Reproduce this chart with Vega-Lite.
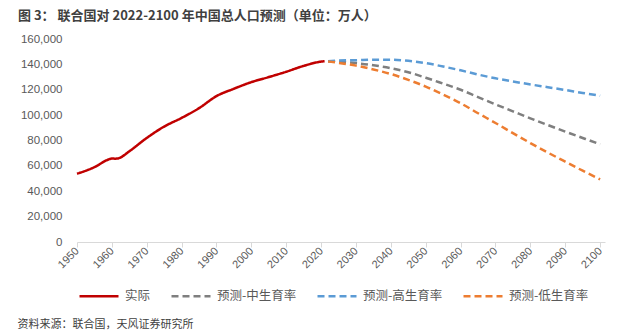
{
  "$schema": "https://vega.github.io/schema/vega-lite/v6.json",
  "width": 528,
  "height": 203,
  "autosize": {"type": "none"},
  "padding": {"left": 77, "top": 39, "right": 34, "bottom": 93},
  "background": "white",
  "config": {"view": {"stroke": null}, "font": "Noto Sans CJK SC"},
  "title": {
    "text": "图 3：  联合国对 2022-2100 年中国总人口预测（单位：万人）",
    "anchor": "start",
    "frame": "group",
    "dx": -59,
    "offset": 10,
    "fontSize": 13,
    "fontWeight": "bold",
    "color": "#404040",
    "font": "Noto Sans CJK SC"
  },
  "data": {
    "values": [
      {"year": 1950, "value": 53800, "series": "实际"},
      {"year": 1955, "value": 59000, "series": "实际"},
      {"year": 1959, "value": 65000, "series": "实际"},
      {"year": 1960, "value": 65800, "series": "实际"},
      {"year": 1961, "value": 65700, "series": "实际"},
      {"year": 1962, "value": 66100, "series": "实际"},
      {"year": 1965, "value": 71500, "series": "实际"},
      {"year": 1970, "value": 82000, "series": "实际"},
      {"year": 1975, "value": 91000, "series": "实际"},
      {"year": 1980, "value": 97800, "series": "实际"},
      {"year": 1985, "value": 105500, "series": "实际"},
      {"year": 1990, "value": 115000, "series": "实际"},
      {"year": 1995, "value": 120800, "series": "实际"},
      {"year": 2000, "value": 126000, "series": "实际"},
      {"year": 2005, "value": 130000, "series": "实际"},
      {"year": 2010, "value": 134200, "series": "实际"},
      {"year": 2015, "value": 138800, "series": "实际"},
      {"year": 2020, "value": 142200, "series": "实际"},
      {"year": 2021, "value": 142500, "series": "实际"},
      {"year": 2022, "value": 142500, "series": "预测-中生育率"},
      {"year": 2025, "value": 142000, "series": "预测-中生育率"},
      {"year": 2030, "value": 141000, "series": "预测-中生育率"},
      {"year": 2035, "value": 139300, "series": "预测-中生育率"},
      {"year": 2040, "value": 137000, "series": "预测-中生育率"},
      {"year": 2045, "value": 133800, "series": "预测-中生育率"},
      {"year": 2050, "value": 129500, "series": "预测-中生育率"},
      {"year": 2055, "value": 124800, "series": "预测-中生育率"},
      {"year": 2060, "value": 120000, "series": "预测-中生育率"},
      {"year": 2065, "value": 114200, "series": "预测-中生育率"},
      {"year": 2070, "value": 108500, "series": "预测-中生育率"},
      {"year": 2075, "value": 103000, "series": "预测-中生育率"},
      {"year": 2080, "value": 97500, "series": "预测-中生育率"},
      {"year": 2085, "value": 92200, "series": "预测-中生育率"},
      {"year": 2090, "value": 87000, "series": "预测-中生育率"},
      {"year": 2095, "value": 82000, "series": "预测-中生育率"},
      {"year": 2100, "value": 77000, "series": "预测-中生育率"},
      {"year": 2022, "value": 142500, "series": "预测-高生育率"},
      {"year": 2025, "value": 143000, "series": "预测-高生育率"},
      {"year": 2030, "value": 143300, "series": "预测-高生育率"},
      {"year": 2035, "value": 143700, "series": "预测-高生育率"},
      {"year": 2040, "value": 143700, "series": "预测-高生育率"},
      {"year": 2045, "value": 142800, "series": "预测-高生育率"},
      {"year": 2050, "value": 141000, "series": "预测-高生育率"},
      {"year": 2055, "value": 138300, "series": "预测-高生育率"},
      {"year": 2060, "value": 135300, "series": "预测-高生育率"},
      {"year": 2065, "value": 132000, "series": "预测-高生育率"},
      {"year": 2070, "value": 129000, "series": "预测-高生育率"},
      {"year": 2075, "value": 126500, "series": "预测-高生育率"},
      {"year": 2080, "value": 124200, "series": "预测-高生育率"},
      {"year": 2085, "value": 122000, "series": "预测-高生育率"},
      {"year": 2090, "value": 119800, "series": "预测-高生育率"},
      {"year": 2095, "value": 117500, "series": "预测-高生育率"},
      {"year": 2100, "value": 115300, "series": "预测-高生育率"},
      {"year": 2022, "value": 142300, "series": "预测-低生育率"},
      {"year": 2025, "value": 141200, "series": "预测-低生育率"},
      {"year": 2030, "value": 139000, "series": "预测-低生育率"},
      {"year": 2035, "value": 136000, "series": "预测-低生育率"},
      {"year": 2040, "value": 132400, "series": "预测-低生育率"},
      {"year": 2045, "value": 127800, "series": "预测-低生育率"},
      {"year": 2050, "value": 122500, "series": "预测-低生育率"},
      {"year": 2055, "value": 116200, "series": "预测-低生育率"},
      {"year": 2060, "value": 109400, "series": "预测-低生育率"},
      {"year": 2065, "value": 101500, "series": "预测-低生育率"},
      {"year": 2070, "value": 93800, "series": "预测-低生育率"},
      {"year": 2075, "value": 85800, "series": "预测-低生育率"},
      {"year": 2080, "value": 78000, "series": "预测-低生育率"},
      {"year": 2085, "value": 70500, "series": "预测-低生育率"},
      {"year": 2090, "value": 63300, "series": "预测-低生育率"},
      {"year": 2095, "value": 56200, "series": "预测-低生育率"},
      {"year": 2100, "value": 49400, "series": "预测-低生育率"}
    ]
  },
  "mark": {"type": "line", "strokeWidth": 2.5, "interpolate": "monotone", "clip": false},
  "encoding": {
    "x": {
      "field": "year",
      "type": "quantitative",
      "scale": {"domain": [1950, 2101.4], "nice": false, "zero": false},
      "axis": {
        "values": [1950, 1960, 1970, 1980, 1990, 2000, 2010, 2020, 2030, 2040, 2050, 2060, 2070, 2080, 2090, 2100],
        "format": "d",
        "labelAngle": -45,
        "labelAlign": "right",
        "labelBaseline": "middle",
        "labelFontSize": 11,
        "labelFont": "Liberation Sans",
        "labelColor": "#595959",
        "labelPadding": 2,
        "tickSize": 5,
        "tickColor": "#d9d9d9",
        "domainColor": "#d9d9d9",
        "grid": false,
        "title": "资料来源：联合国，天风证券研究所",
        "titleAnchor": "start",
        "titleAlign": "left",
        "titleBaseline": "bottom",
        "titleX": -60,
        "titleY": 87,
        "titleFontSize": 11,
        "titleFontWeight": "normal",
        "titleColor": "#404040",
        "titleFont": "Noto Sans CJK SC"
      }
    },
    "y": {
      "field": "value",
      "type": "quantitative",
      "scale": {"domain": [0, 160000], "nice": false},
      "axis": {
        "values": [0, 20000, 40000, 60000, 80000, 100000, 120000, 140000, 160000],
        "format": ",.0f",
        "domain": false,
        "ticks": false,
        "grid": false,
        "labelPadding": 15,
        "labelFontSize": 11.5,
        "labelFont": "Liberation Sans",
        "labelColor": "#595959",
        "title": null
      }
    },
    "color": {
      "field": "series",
      "type": "nominal",
      "sort": ["实际", "预测-中生育率", "预测-高生育率", "预测-低生育率"],
      "scale": {
        "domain": ["实际", "预测-中生育率", "预测-高生育率", "预测-低生育率"],
        "range": ["#C00000", "#7F7F7F", "#5B9BD5", "#ED7D31"]
      },
      "legend": {
        "title": null,
        "orient": "none",
        "direction": "horizontal",
        "legendX": 1,
        "legendY": 236,
        "symbolType": "stroke",
        "symbolSize": 1521,
        "symbolStrokeWidth": 2.5,
        "labelFontSize": 12.5,
        "labelColor": "#595959",
        "labelFont": "Noto Sans CJK SC",
        "labelOffset": 5,
        "columnPadding": 15
      }
    },
    "strokeDash": {
      "field": "series",
      "type": "nominal",
      "scale": {
        "domain": ["实际", "预测-中生育率", "预测-高生育率", "预测-低生育率"],
        "range": [[1, 0], [7, 4], [7, 4], [7, 4]]
      },
      "legend": null
    }
  }
}
